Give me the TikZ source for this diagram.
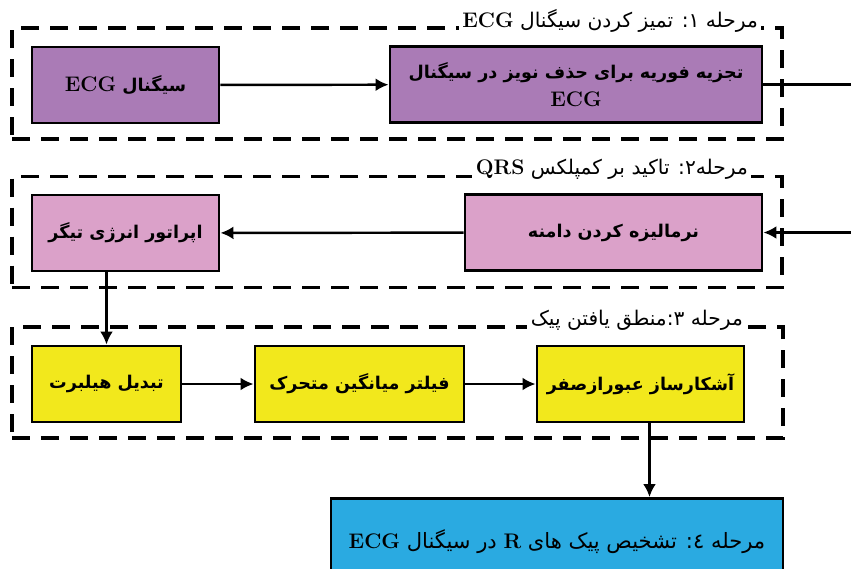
\documentclass[tikz,border=0pt]{standalone}
\usepackage{fontspec}
\newfontfamily\fafont[Script=Arabic]{DejaVu Sans}
\TeXXeTstate=1
\usepackage{tikz}
\usetikzlibrary{arrows.meta, positioning, calc}
\definecolor{stageone}{RGB}{170,123,182}
\definecolor{stagetwo}{RGB}{219,161,201}
\definecolor{stagethree}{RGB}{242,232,28}
\definecolor{stagefour}{RGB}{42,170,225}
\newcommand{\fa}[1]{\beginR #1\endR}
\newcommand{\en}[1]{\beginL{\normalfont\bfseries\large #1}\endL}
\tikzset{
  procbox/.style={
    draw, line width=1.7pt, align=center, inner sep=3pt,
    font=\fafont\bfseries\fontsize{10}{16}\selectfont,
    minimum height=1.52cm
  },
  stageframe/.style={
    draw, line width=2pt, dash pattern=on 0.36cm off 0.22cm,
    minimum width=15.4cm, minimum height=2.22cm
  },
  stagetitle/.style={
    fill=white, inner sep=2pt, anchor=east,
    font=\fafont\fontsize{11.5}{13}\selectfont
  },
  flowarrow/.style={
    -{Latex[length=2.6mm, width=2.6mm]}, line width=1.4pt
  },
}

\begin{document}
\begin{tikzpicture}[
  plainline/.style={line width=1.4pt},
]
  \useasboundingbox (0,0) rectangle (17.02,11.36);

  % === Stage frames ===
  \node[stageframe] (frameone) at (7.94, 9.69) {};
  \node[stageframe] (frametwo) at (7.94, 6.72) {};
  \node[stageframe, minimum width=15.42cm] (framethree) at (7.95, 3.71) {};

  \node[stagetitle] (titleone) at ([xshift=-0.44cm, yshift=0.1cm]frameone.north east)
    {\fa{مرحله ۱: تمیز کردن سیگنال \en{ECG}}};
  \node[stagetitle] (titletwo) at ([xshift=-0.64cm, yshift=0.1cm]frametwo.north east)
    {\fa{مرحله۲: تاکید بر کمپلکس \en{QRS}}};
  \node[stagetitle] (titlethree) at ([xshift=-0.76cm, yshift=0.1cm]framethree.north east)
    {\fa{مرحله ۳:منطق یافتن پیک}};

  % === Stage 1 ===
  \node[procbox, fill=stageone, minimum width=3.74cm] (sig) at (2.51, 9.66)
    {\fa{سیگنال \en{ECG}}};
  \node[procbox, fill=stageone, minimum width=7.44cm] (fourier) at (11.52, 9.67)
    {\fa{تجزیه فوریه برای حذف نویز در سیگنال}\\ \en{ECG}};

  % === Stage 2 ===
  \node[procbox, fill=stagetwo, minimum width=5.94cm] (norm) at (12.27, 6.71)
    {\fa{نرمالیزه کردن دامنه}};
  \node[procbox, fill=stagetwo, minimum width=3.74cm] (teager) at (2.51, 6.70)
    {\fa{اپراتور انرژی تیگر}};

  % === Stage 3 ===
  \node[procbox, fill=stagethree, minimum width=2.98cm] (hilbert) at (2.13, 3.68)
    {\fa{تبدیل هیلبرت}};
  \node[procbox, fill=stagethree, minimum width=4.18cm] (mavg) at (7.19, 3.68)
    {\fa{فیلتر میانگین متحرک}};
  \node[procbox, fill=stagethree, minimum width=4.14cm] (zcross) at (12.81, 3.68)
    {\fa{آشکارساز عبورازصفر}};

  % === Stage 4 ===
  \node[procbox, fill=stagefour, minimum width=9.04cm, minimum height=1.72cm,
    anchor=north, font=\fafont\fontsize{12}{15}\selectfont] (rpeak) at (11.14, 1.42)
    {\fa{مرحله ٤: تشخیص پیک های \en{R} در سیگنال \en{ECG}}};

  % === Arrows ===
  \coordinate (wrap) at (17.6, 8.2);
  \draw[flowarrow] (sig) -- (fourier);
  \draw[flowarrow] (fourier.east) -| (wrap) |- (norm.east);
  \draw[flowarrow] (norm) -- (teager);
  \draw[flowarrow] (teager.south -| hilbert.north) -- (hilbert.north);
  \draw[flowarrow] (hilbert) -- (mavg);
  \draw[flowarrow] (mavg) -- (zcross);
  \draw[flowarrow] ([xshift=0.18cm]zcross.south) -- ([xshift=0.18cm]zcross.south |- rpeak.north);

\end{tikzpicture}
\end{document}
